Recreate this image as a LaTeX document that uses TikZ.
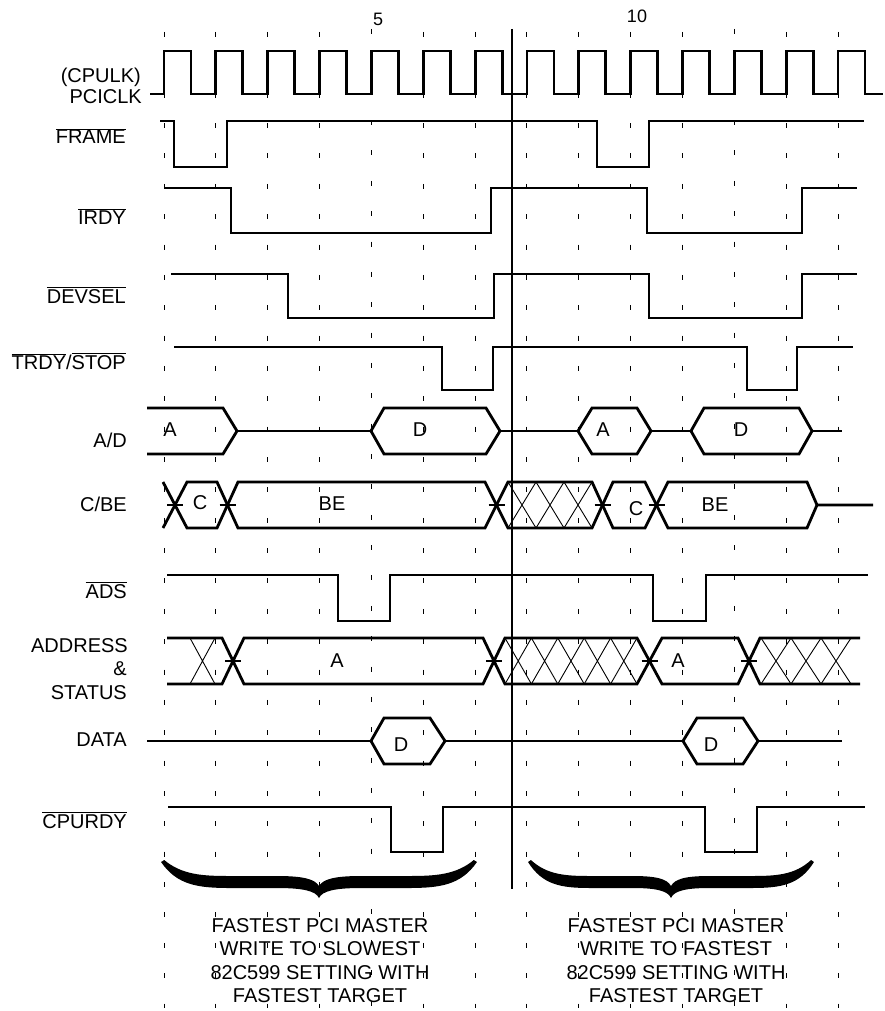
\documentclass[tikz,border=0pt]{standalone}
\usepackage{fontspec}
\setmainfont{Liberation Sans}
\newcommand\ol[1]{$\overline{\mbox{#1}}$}
\newcommand\bracepath{(-150,862) .. controls (-135,885) and (-115,888) .. (-85,888) -- (-40,888) .. controls (-15,888) and (-3,891) .. (0,898) .. controls (3,891) and (15,888) .. (40,888) -- (85,888) .. controls (115,888) and (135,885) .. (150,862) -- (147,860) .. controls (130,875) and (110,876) .. (85,876) -- (40,876) .. controls (15,876) and (4,879) .. (0,886) .. controls (-4,879) and (-15,876) .. (-40,876) -- (-85,876) .. controls (-110,876) and (-130,875) .. (-147,860) -- cycle}
\begin{document}
\begin{tikzpicture}[x=1pt,y=-1pt,
  sig/.style={line width=2.8pt, line join=miter, line cap=butt},
  xtick/.style={line width=1.8pt},
  thinx/.style={line width=0.9pt},
  gridline/.style={line width=1pt, dash pattern=on 5pt off 25.36pt},
  lab/.style={anchor=base east, inner sep=0pt, font=\fontsize{20}{22}\selectfont},
  inlab/.style={anchor=base, inner sep=0pt, font=\fontsize{20}{22}\selectfont},
  num/.style={anchor=base, inner sep=0pt, font=\fontsize{18}{20}\selectfont},
  bot/.style={anchor=north, inner sep=0pt, align=center, font=\fontsize{20}{23.5}\selectfont},
]
\useasboundingbox (0,0) rectangle (885,1011);
% grid
\foreach \k in {1,...,14} {
  \pgfmathsetmacro\gx{164+51.85*(\k-1)}
  \pgfmathsetmacro\gy{(\k==5||\k==12)?29:32}
  \draw[gridline] (\gx,\gy) -- (\gx,1008);
}
% numbers
\node[num] (n5) at (378,26) {5};
\node[num] (n10) at (637,23) {10};
% separator
\draw[line width=1.3pt] (512,29) -- (512,889);
% labels
\node[lab] (cpulk) at (141,83) {(CPULK)};
\node[lab] (pciclk) at (142,104) {PCICLK};
\node[lab] (frame) at (126,144) {\ol{FRAME}};
\node[lab] (irdy) at (126,224) {\ol{IRDY}};
\node[lab] (devsel) at (126,303) {\ol{DEVSEL}};
\node[lab] (trdy) at (126,369) {\ol{TRDY}/\ol{STOP}};
\node[lab] (ad) at (127,447) {A/D};
\node[lab] (cbe) at (127,511) {C/BE};
\node[lab] (ads) at (127,598) {\ol{ADS}};
\node[lab] (addr) at (128,652) {ADDRESS};
\node[lab] (amp) at (127,675) {\&};
\node[lab] (status) at (127,699) {STATUS};
\node[lab] (data) at (127,746) {DATA};
\node[lab] (cpurdy) at (127,828) {\ol{CPURDY}};
% clock
\draw[sig] (150,94) foreach \k in {0,...,13} { -- ({164+51.85*\k},94) -- ({164+51.85*\k},51) -- ({191+51.85*\k},51) -- ({191+51.85*\k},94) } -- (883,94);
% FRAME
\draw[sig] (160,121) -- (174,121) -- (174,167) -- (227,167) -- (227,121) -- (597,121) -- (597,167) -- (649,167) -- (649,121) -- (864,121);
% IRDY
\draw[sig] (164,188) -- (231,188) -- (231,233) -- (491,233) -- (491,188) -- (647,188) -- (647,233) -- (802,233) -- (802,188) -- (857,188);
% DEVSEL
\draw[sig] (171,274) -- (288,274) -- (288,318) -- (494,318) -- (494,274) -- (649,274) -- (649,318) -- (802,318) -- (802,274) -- (857,274);
% TRDY/STOP
\draw[sig] (174,347) -- (442,347) -- (442,390) -- (493,390) -- (493,347) -- (747,347) -- (747,390) -- (797,390) -- (797,347) -- (853,347);
% A/D
\draw[sig] (147,408) -- (223,408) -- (237,431) -- (223,454) -- (147,454);
\draw[sig] (237,431) -- (371,431);
\draw[sig] (371,431) -- (384,408) -- (486,408) -- (500,431) -- (486,454) -- (384,454) -- cycle;
\draw[sig] (500,431) -- (578,431);
\draw[sig] (578,431) -- (592,408) -- (637,408) -- (651,431) -- (637,454) -- (592,454) -- cycle;
\draw[sig] (651,431) -- (691,431);
\draw[sig] (691,431) -- (704,408) -- (799,408) -- (812,431) -- (799,454) -- (704,454) -- cycle;
\draw[sig] (812,431) -- (842,431);
\node[inlab] (adA1) at (170,436) {A};
\node[inlab] (adD1) at (420,436) {D};
\node[inlab] (adA2) at (603,436) {A};
\node[inlab] (adD2) at (741,436) {D};
% C/BE
\draw[sig] (163,482) -- (187,528) -- (217,528) -- (238,482) -- (485,482) -- (508,528) -- (592,528) -- (613,482) -- (645,482) -- (668,528) -- (807,528) -- (817,505) -- (873,505);
\draw[sig] (163,528) -- (187,482) -- (217,482) -- (238,528) -- (485,528) -- (508,482) -- (592,482) -- (613,528) -- (645,528) -- (668,482) -- (807,482) -- (817,505);
\foreach \c in {175,227.5,496.5,602.5,656.5} \draw[xtick] (\c-8,505) -- (\c+8,505);
\foreach \i in {0,1,2} \draw[thinx] ({508+28*\i},482) -- ({536+28*\i},528) ({508+28*\i},528) -- ({536+28*\i},482);
\node[inlab] (cbeC1) at (200,509) {C};
\node[inlab] (cbeBE1) at (332,510) {BE};
\node[inlab] (cbeC2) at (636,515) {C};
\node[inlab] (cbeBE2) at (715,511) {BE};
% ADS
\draw[sig] (167,575) -- (338,575) -- (338,621) -- (390,621) -- (390,575) -- (653,575) -- (653,621) -- (706,621) -- (706,575) -- (868,575);
% ADDRESS & STATUS
\draw[sig] (167,638) -- (222,638) -- (244,684) -- (483,684) -- (505,638) -- (637,638) -- (662,684) -- (738,684) -- (760,638) -- (860,638);
\draw[sig] (167,684) -- (222,684) -- (244,638) -- (483,638) -- (505,684) -- (637,684) -- (662,638) -- (738,638) -- (760,684) -- (860,684);
\foreach \c in {233,494,649.5,749} \draw[xtick] (\c-8,661) -- (\c+8,661);
\draw[thinx] (190,638) -- (215,684) (190,684) -- (215,638);
\foreach \i in {0,...,4} \draw[thinx] ({505+26.4*\i},638) -- ({531.4+26.4*\i},684) ({505+26.4*\i},684) -- ({531.4+26.4*\i},638);
\foreach \i in {0,1,2} \draw[thinx] ({761+30*\i},638) -- ({791+30*\i},684) ({761+30*\i},684) -- ({791+30*\i},638);
\node[inlab] (asA1) at (337,667) {A};
\node[inlab] (asA2) at (678,667) {A};
% DATA
\draw[sig] (147,741) -- (371,741);
\draw[sig] (371,741) -- (384,718) -- (430,718) -- (445,741) -- (430,764) -- (384,764) -- cycle;
\draw[sig] (445,741) -- (683,741);
\draw[sig] (683,741) -- (697,718) -- (743,718) -- (758,741) -- (743,764) -- (697,764) -- cycle;
\draw[sig] (758,741) -- (842,741);
\node[inlab] (dD1) at (401,751) {D};
\node[inlab] (dD2) at (711,751) {D};
% CPURDY
\draw[sig] (168,807) -- (391,807) -- (391,852) -- (443,852) -- (443,807) -- (705,807) -- (705,852) -- (757,852) -- (757,807) -- (865,807);
% braces
\begin{scope}[shift={(319,0)}, xscale=1.053]
\fill \bracepath;
\end{scope}
\begin{scope}[shift={(671,0)}, xscale=0.953]
\fill \bracepath;
\end{scope}
% bottom texts
\node[bot] (t1) at (320,918) {FASTEST PCI MASTER\\WRITE TO SLOWEST\\82C599 SETTING WITH\\FASTEST TARGET};
\node[bot] (t2) at (676,918) {FASTEST PCI MASTER\\WRITE TO FASTEST\\82C599 SETTING WITH\\FASTEST TARGET};
\end{tikzpicture}
\end{document}
